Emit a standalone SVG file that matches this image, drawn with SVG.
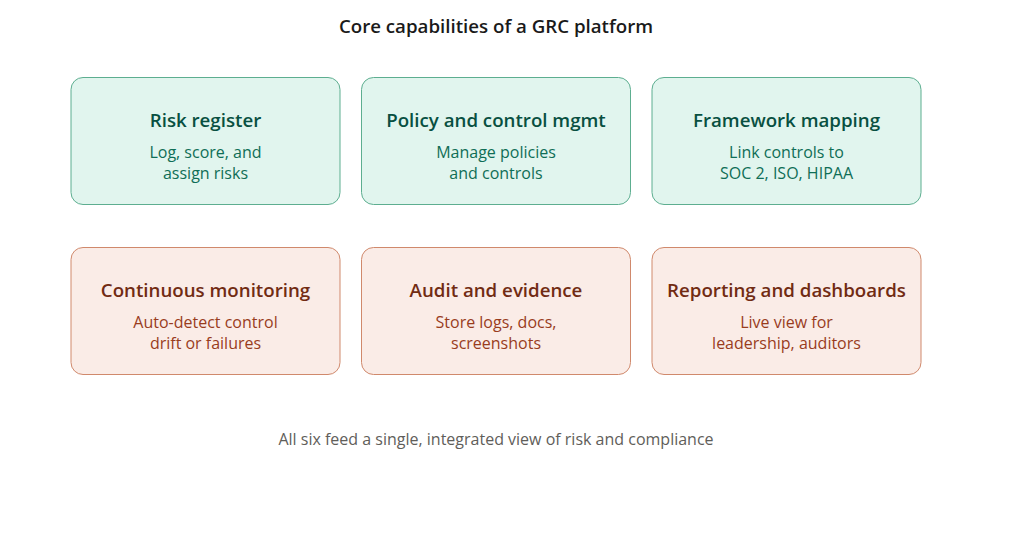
<svg xmlns="http://www.w3.org/2000/svg" width="1024" height="559" viewBox="0 0 1024 559">
<style>
text{font-family:"Open Sans","Noto Sans","Liberation Sans",sans-serif;text-anchor:middle}
.title{font-size:18.7px;font-weight:600;fill:#1a1a1a}
.foot{font-size:16px;fill:#5f5e5a}
.t .box{fill:#e1f5ee;stroke:#5dae90;stroke-width:1}
.t .h{font-size:18.7px;font-weight:600;fill:#085041}
.t .s{font-size:16px;fill:#0f6e56}
.c .box{fill:#faece7;stroke:#d0896c;stroke-width:1}
.c .h{font-size:18.7px;font-weight:600;fill:#712b13}
.c .s{font-size:16px;fill:#993c1d}
</style>
<rect width="1024" height="559" fill="#ffffff"/>
<text class="title" x="496" y="33">Core capabilities of a GRC platform</text>
<g id="risk-register" class="t">
<rect class="box" x="71" y="77.5" width="269" height="127" rx="12"/>
<text class="h" x="205.5" y="127">Risk register</text>
<text class="s" x="205.5" y="157.5">Log, score, and</text>
<text class="s" x="205.5" y="178.5">assign risks</text>
</g>
<g id="policy-control" class="t">
<rect class="box" x="361.5" y="77.5" width="269" height="127" rx="12"/>
<text class="h" x="496" y="127">Policy and control mgmt</text>
<text class="s" x="496" y="157.5">Manage policies</text>
<text class="s" x="496" y="178.5">and controls</text>
</g>
<g id="framework-mapping" class="t">
<rect class="box" x="652" y="77.5" width="269" height="127" rx="12"/>
<text class="h" x="786.5" y="127">Framework mapping</text>
<text class="s" x="786.5" y="157.5">Link controls to</text>
<text class="s" x="786.5" y="178.5">SOC 2, ISO, HIPAA</text>
</g>
<g id="continuous-monitoring" class="c">
<rect class="box" x="71" y="247.5" width="269" height="127" rx="12"/>
<text class="h" x="205.5" y="297">Continuous monitoring</text>
<text class="s" x="205.5" y="327.5">Auto-detect control</text>
<text class="s" x="205.5" y="348.5">drift or failures</text>
</g>
<g id="audit-evidence" class="c">
<rect class="box" x="361.5" y="247.5" width="269" height="127" rx="12"/>
<text class="h" x="496" y="297">Audit and evidence</text>
<text class="s" x="496" y="327.5">Store logs, docs,</text>
<text class="s" x="496" y="348.5">screenshots</text>
</g>
<g id="reporting-dashboards" class="c">
<rect class="box" x="652" y="247.5" width="269" height="127" rx="12"/>
<text class="h" x="786.5" y="297">Reporting and dashboards</text>
<text class="s" x="786.5" y="327.5">Live view for</text>
<text class="s" x="786.5" y="348.5">leadership, auditors</text>
</g>
<g id="connectors"></g>
<text class="foot" x="496" y="445">All six feed a single, integrated view of risk and compliance</text>
</svg>
